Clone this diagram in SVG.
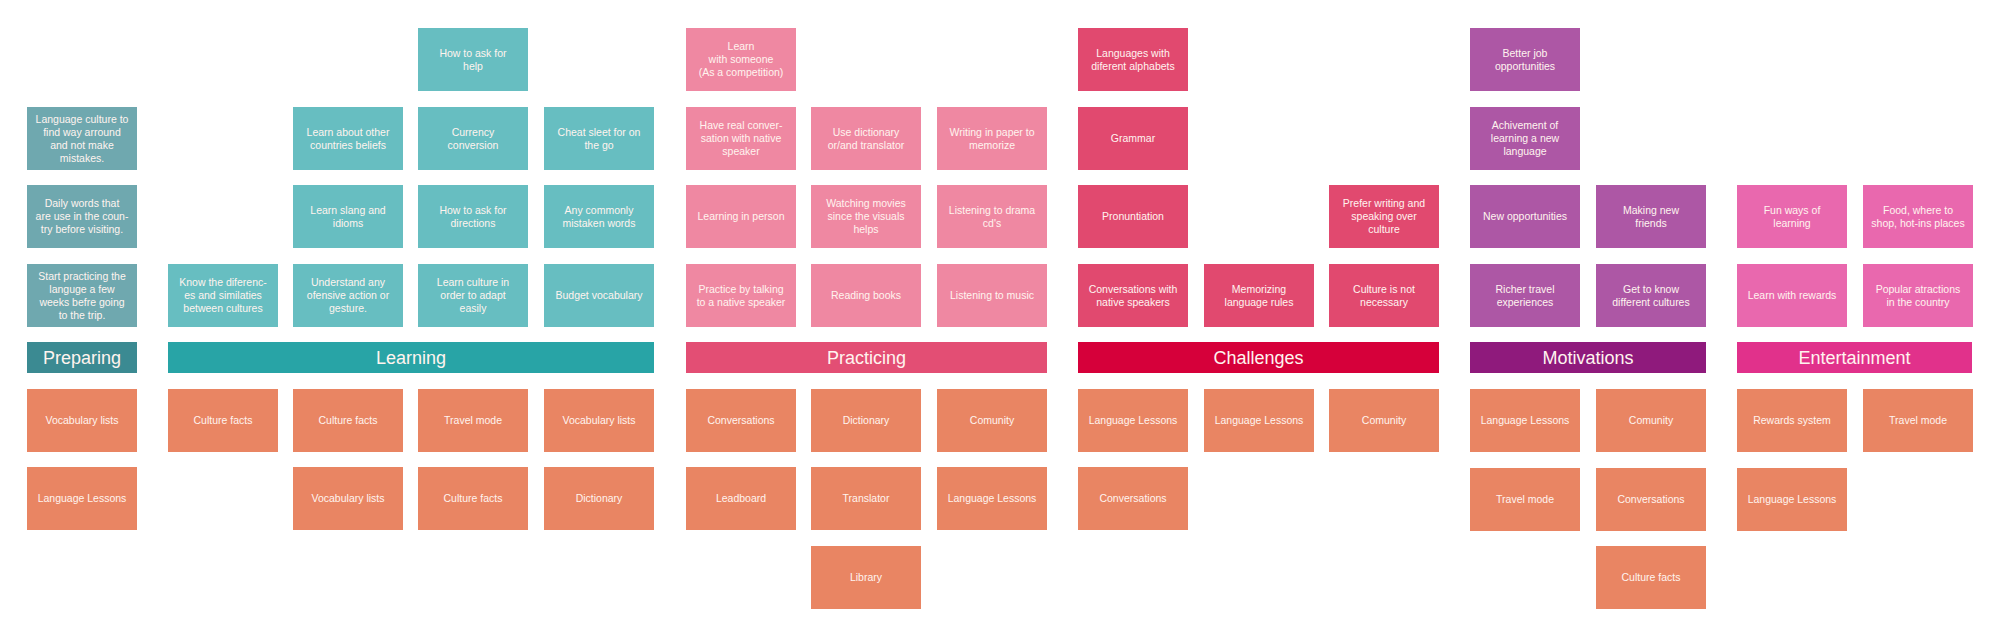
<svg xmlns="http://www.w3.org/2000/svg" width="2000" height="625" viewBox="0 0 2000 625">
<style>
.b{stroke:none}
.prep{fill:#6fa8af}
.learn{fill:#67bec1}
.prac{fill:#ef88a2}
.chal{fill:#e1496f}
.moti{fill:#ad57a5}
.ent{fill:#e968ae}
.tool{fill:#e98563}
.hprep{fill:#3b8a92}
.hlearn{fill:#28a4a6}
.hprac{fill:#e34e74}
.hchal{fill:#d6003a}
.hmoti{fill:#8f1a7c}
.hent{fill:#e1318b}
.t{font-family:"Liberation Sans",Arial,sans-serif;font-size:10.5px;fill:#fff4ef;text-anchor:middle}
.h{font-family:"Liberation Sans",Arial,sans-serif;font-size:18px;fill:#fff4ef;text-anchor:middle}
</style>
<rect width="2000" height="625" fill="#ffffff"/>
<g id="connectors"/>

<!-- Preparing -->
<g id="prep-1"><rect class="b prep" x="27" y="107" width="110" height="63"/><text class="t" x="82" y="122.5"><tspan x="82">Language culture to</tspan><tspan x="82" dy="13">find way arround</tspan><tspan x="82" dy="13">and not make</tspan><tspan x="82" dy="13">mistakes.</tspan></text></g>
<g id="prep-2"><rect class="b prep" x="27" y="185" width="110" height="63"/><text class="t" x="82" y="207"><tspan x="82">Daily words that</tspan><tspan x="82" dy="13">are use in the coun-</tspan><tspan x="82" dy="13">try before visiting.</tspan></text></g>
<g id="prep-3"><rect class="b prep" x="27" y="264" width="110" height="63"/><text class="t" x="82" y="279.5"><tspan x="82">Start practicing the</tspan><tspan x="82" dy="13">languge a few</tspan><tspan x="82" dy="13">weeks befre going</tspan><tspan x="82" dy="13">to the trip.</tspan></text></g>
<g id="h-preparing"><rect class="b hprep" x="27" y="342" width="110" height="31"/><text class="h" x="82" y="364">Preparing</text></g>
<g id="prep-o1"><rect class="b tool" x="27" y="389" width="110" height="63"/><text class="t" x="82" y="424">Vocabulary lists</text></g>
<g id="prep-o2"><rect class="b tool" x="27" y="467" width="110" height="63"/><text class="t" x="82" y="502">Language Lessons</text></g>

<!-- Learning -->
<g id="learn-c1-r4"><rect class="b learn" x="168" y="264" width="110" height="63"/><text class="t" x="223" y="286"><tspan x="223">Know the diferenc-</tspan><tspan x="223" dy="13">es and similaties</tspan><tspan x="223" dy="13">between cultures</tspan></text></g>
<g id="learn-c1-o1"><rect class="b tool" x="168" y="389" width="110" height="63"/><text class="t" x="223" y="424">Culture facts</text></g>

<g id="learn-c2-r2"><rect class="b learn" x="293" y="107" width="110" height="63"/><text class="t" x="348" y="135.5"><tspan x="348">Learn about other</tspan><tspan x="348" dy="13">countries beliefs</tspan></text></g>
<g id="learn-c2-r3"><rect class="b learn" x="293" y="185" width="110" height="63"/><text class="t" x="348" y="213.5"><tspan x="348">Learn slang and</tspan><tspan x="348" dy="13">idioms</tspan></text></g>
<g id="learn-c2-r4"><rect class="b learn" x="293" y="264" width="110" height="63"/><text class="t" x="348" y="286"><tspan x="348">Understand any</tspan><tspan x="348" dy="13">ofensive action or</tspan><tspan x="348" dy="13">gesture.</tspan></text></g>
<g id="learn-c2-o1"><rect class="b tool" x="293" y="389" width="110" height="63"/><text class="t" x="348" y="424">Culture facts</text></g>
<g id="learn-c2-o2"><rect class="b tool" x="293" y="467" width="110" height="63"/><text class="t" x="348" y="502">Vocabulary lists</text></g>

<g id="learn-c3-r1"><rect class="b learn" x="418" y="28" width="110" height="63"/><text class="t" x="473" y="56.5"><tspan x="473">How to ask for</tspan><tspan x="473" dy="13">help</tspan></text></g>
<g id="learn-c3-r2"><rect class="b learn" x="418" y="107" width="110" height="63"/><text class="t" x="473" y="135.5"><tspan x="473">Currency</tspan><tspan x="473" dy="13">conversion</tspan></text></g>
<g id="learn-c3-r3"><rect class="b learn" x="418" y="185" width="110" height="63"/><text class="t" x="473" y="213.5"><tspan x="473">How to ask for</tspan><tspan x="473" dy="13">directions</tspan></text></g>
<g id="learn-c3-r4"><rect class="b learn" x="418" y="264" width="110" height="63"/><text class="t" x="473" y="286"><tspan x="473">Learn culture in</tspan><tspan x="473" dy="13">order to adapt</tspan><tspan x="473" dy="13">easily</tspan></text></g>
<g id="learn-c3-o1"><rect class="b tool" x="418" y="389" width="110" height="63"/><text class="t" x="473" y="424">Travel mode</text></g>
<g id="learn-c3-o2"><rect class="b tool" x="418" y="467" width="110" height="63"/><text class="t" x="473" y="502">Culture facts</text></g>

<g id="learn-c4-r2"><rect class="b learn" x="544" y="107" width="110" height="63"/><text class="t" x="599" y="135.5"><tspan x="599">Cheat sleet for on</tspan><tspan x="599" dy="13">the go</tspan></text></g>
<g id="learn-c4-r3"><rect class="b learn" x="544" y="185" width="110" height="63"/><text class="t" x="599" y="213.5"><tspan x="599">Any commonly</tspan><tspan x="599" dy="13">mistaken words</tspan></text></g>
<g id="learn-c4-r4"><rect class="b learn" x="544" y="264" width="110" height="63"/><text class="t" x="599" y="299">Budget vocabulary</text></g>
<g id="learn-c4-o1"><rect class="b tool" x="544" y="389" width="110" height="63"/><text class="t" x="599" y="424">Vocabulary lists</text></g>
<g id="learn-c4-o2"><rect class="b tool" x="544" y="467" width="110" height="63"/><text class="t" x="599" y="502">Dictionary</text></g>
<g id="h-learning"><rect class="b hlearn" x="168" y="342" width="486" height="31"/><text class="h" x="411" y="364">Learning</text></g>

<!-- Practicing -->
<g id="prac-c1-r1"><rect class="b prac" x="686" y="28" width="110" height="63"/><text class="t" x="741" y="50"><tspan x="741">Learn</tspan><tspan x="741" dy="13">with someone</tspan><tspan x="741" dy="13">(As a competition)</tspan></text></g>
<g id="prac-c1-r2"><rect class="b prac" x="686" y="107" width="110" height="63"/><text class="t" x="741" y="129"><tspan x="741">Have real conver-</tspan><tspan x="741" dy="13">sation with native</tspan><tspan x="741" dy="13">speaker</tspan></text></g>
<g id="prac-c1-r3"><rect class="b prac" x="686" y="185" width="110" height="63"/><text class="t" x="741" y="220">Learning in person</text></g>
<g id="prac-c1-r4"><rect class="b prac" x="686" y="264" width="110" height="63"/><text class="t" x="741" y="292.5"><tspan x="741">Practice by talking</tspan><tspan x="741" dy="13">to a native speaker</tspan></text></g>
<g id="prac-c1-o1"><rect class="b tool" x="686" y="389" width="110" height="63"/><text class="t" x="741" y="424">Conversations</text></g>
<g id="prac-c1-o2"><rect class="b tool" x="686" y="467" width="110" height="63"/><text class="t" x="741" y="502">Leadboard</text></g>

<g id="prac-c2-r2"><rect class="b prac" x="811" y="107" width="110" height="63"/><text class="t" x="866" y="135.5"><tspan x="866">Use dictionary</tspan><tspan x="866" dy="13">or/and translator</tspan></text></g>
<g id="prac-c2-r3"><rect class="b prac" x="811" y="185" width="110" height="63"/><text class="t" x="866" y="207"><tspan x="866">Watching movies</tspan><tspan x="866" dy="13">since the visuals</tspan><tspan x="866" dy="13">helps</tspan></text></g>
<g id="prac-c2-r4"><rect class="b prac" x="811" y="264" width="110" height="63"/><text class="t" x="866" y="299">Reading books</text></g>
<g id="prac-c2-o1"><rect class="b tool" x="811" y="389" width="110" height="63"/><text class="t" x="866" y="424">Dictionary</text></g>
<g id="prac-c2-o2"><rect class="b tool" x="811" y="467" width="110" height="63"/><text class="t" x="866" y="502">Translator</text></g>
<g id="prac-c2-o3"><rect class="b tool" x="811" y="546" width="110" height="63"/><text class="t" x="866" y="581">Library</text></g>

<g id="prac-c3-r2"><rect class="b prac" x="937" y="107" width="110" height="63"/><text class="t" x="992" y="135.5"><tspan x="992">Writing in paper to</tspan><tspan x="992" dy="13">memorize</tspan></text></g>
<g id="prac-c3-r3"><rect class="b prac" x="937" y="185" width="110" height="63"/><text class="t" x="992" y="213.5"><tspan x="992">Listening to drama</tspan><tspan x="992" dy="13">cd's</tspan></text></g>
<g id="prac-c3-r4"><rect class="b prac" x="937" y="264" width="110" height="63"/><text class="t" x="992" y="299">Listening to music</text></g>
<g id="prac-c3-o1"><rect class="b tool" x="937" y="389" width="110" height="63"/><text class="t" x="992" y="424">Comunity</text></g>
<g id="prac-c3-o2"><rect class="b tool" x="937" y="467" width="110" height="63"/><text class="t" x="992" y="502">Language Lessons</text></g>
<g id="h-practicing"><rect class="b hprac" x="686" y="342" width="361" height="31"/><text class="h" x="866.5" y="364">Practicing</text></g>

<!-- Challenges -->
<g id="chal-c1-r1"><rect class="b chal" x="1078" y="28" width="110" height="63"/><text class="t" x="1133" y="56.5"><tspan x="1133">Languages with</tspan><tspan x="1133" dy="13">diferent alphabets</tspan></text></g>
<g id="chal-c1-r2"><rect class="b chal" x="1078" y="107" width="110" height="63"/><text class="t" x="1133" y="142">Grammar</text></g>
<g id="chal-c1-r3"><rect class="b chal" x="1078" y="185" width="110" height="63"/><text class="t" x="1133" y="220">Pronuntiation</text></g>
<g id="chal-c1-r4"><rect class="b chal" x="1078" y="264" width="110" height="63"/><text class="t" x="1133" y="292.5"><tspan x="1133">Conversations with</tspan><tspan x="1133" dy="13">native speakers</tspan></text></g>
<g id="chal-c1-o1"><rect class="b tool" x="1078" y="389" width="110" height="63"/><text class="t" x="1133" y="424">Language Lessons</text></g>
<g id="chal-c1-o2"><rect class="b tool" x="1078" y="467" width="110" height="63"/><text class="t" x="1133" y="502">Conversations</text></g>

<g id="chal-c2-r4"><rect class="b chal" x="1204" y="264" width="110" height="63"/><text class="t" x="1259" y="292.5"><tspan x="1259">Memorizing</tspan><tspan x="1259" dy="13">language rules</tspan></text></g>
<g id="chal-c2-o1"><rect class="b tool" x="1204" y="389" width="110" height="63"/><text class="t" x="1259" y="424">Language Lessons</text></g>

<g id="chal-c3-r3"><rect class="b chal" x="1329" y="185" width="110" height="63"/><text class="t" x="1384" y="207"><tspan x="1384">Prefer writing and</tspan><tspan x="1384" dy="13">speaking over</tspan><tspan x="1384" dy="13">culture</tspan></text></g>
<g id="chal-c3-r4"><rect class="b chal" x="1329" y="264" width="110" height="63"/><text class="t" x="1384" y="292.5"><tspan x="1384">Culture is not</tspan><tspan x="1384" dy="13">necessary</tspan></text></g>
<g id="chal-c3-o1"><rect class="b tool" x="1329" y="389" width="110" height="63"/><text class="t" x="1384" y="424">Comunity</text></g>
<g id="h-challenges"><rect class="b hchal" x="1078" y="342" width="361" height="31"/><text class="h" x="1258.5" y="364">Challenges</text></g>

<!-- Motivations -->
<g id="moti-c1-r1"><rect class="b moti" x="1470" y="28" width="110" height="63"/><text class="t" x="1525" y="56.5"><tspan x="1525">Better job</tspan><tspan x="1525" dy="13">opportunities</tspan></text></g>
<g id="moti-c1-r2"><rect class="b moti" x="1470" y="107" width="110" height="63"/><text class="t" x="1525" y="129"><tspan x="1525">Achivement of</tspan><tspan x="1525" dy="13">learning a new</tspan><tspan x="1525" dy="13">language</tspan></text></g>
<g id="moti-c1-r3"><rect class="b moti" x="1470" y="185" width="110" height="63"/><text class="t" x="1525" y="220">New opportunities</text></g>
<g id="moti-c1-r4"><rect class="b moti" x="1470" y="264" width="110" height="63"/><text class="t" x="1525" y="292.5"><tspan x="1525">Richer travel</tspan><tspan x="1525" dy="13">experiences</tspan></text></g>
<g id="moti-c1-o1"><rect class="b tool" x="1470" y="389" width="110" height="63"/><text class="t" x="1525" y="424">Language Lessons</text></g>
<g id="moti-c1-o2"><rect class="b tool" x="1470" y="468" width="110" height="63"/><text class="t" x="1525" y="503">Travel mode</text></g>

<g id="moti-c2-r3"><rect class="b moti" x="1596" y="185" width="110" height="63"/><text class="t" x="1651" y="213.5"><tspan x="1651">Making new</tspan><tspan x="1651" dy="13">friends</tspan></text></g>
<g id="moti-c2-r4"><rect class="b moti" x="1596" y="264" width="110" height="63"/><text class="t" x="1651" y="292.5"><tspan x="1651">Get to know</tspan><tspan x="1651" dy="13">different cultures</tspan></text></g>
<g id="moti-c2-o1"><rect class="b tool" x="1596" y="389" width="110" height="63"/><text class="t" x="1651" y="424">Comunity</text></g>
<g id="moti-c2-o2"><rect class="b tool" x="1596" y="468" width="110" height="63"/><text class="t" x="1651" y="503">Conversations</text></g>
<g id="moti-c2-o3"><rect class="b tool" x="1596" y="546" width="110" height="63"/><text class="t" x="1651" y="581">Culture facts</text></g>
<g id="h-motivations"><rect class="b hmoti" x="1470" y="342" width="236" height="31"/><text class="h" x="1588" y="364">Motivations</text></g>

<!-- Entertainment -->
<g id="ent-c1-r3"><rect class="b ent" x="1737" y="185" width="110" height="63"/><text class="t" x="1792" y="213.5"><tspan x="1792">Fun ways of</tspan><tspan x="1792" dy="13">learning</tspan></text></g>
<g id="ent-c1-r4"><rect class="b ent" x="1737" y="264" width="110" height="63"/><text class="t" x="1792" y="299">Learn with rewards</text></g>
<g id="ent-c1-o1"><rect class="b tool" x="1737" y="389" width="110" height="63"/><text class="t" x="1792" y="424">Rewards system</text></g>
<g id="ent-c1-o2"><rect class="b tool" x="1737" y="468" width="110" height="63"/><text class="t" x="1792" y="503">Language Lessons</text></g>

<g id="ent-c2-r3"><rect class="b ent" x="1863" y="185" width="110" height="63"/><text class="t" x="1918" y="213.5"><tspan x="1918">Food, where to</tspan><tspan x="1918" dy="13">shop, hot-ins places</tspan></text></g>
<g id="ent-c2-r4"><rect class="b ent" x="1863" y="264" width="110" height="63"/><text class="t" x="1918" y="292.5"><tspan x="1918">Popular atractions</tspan><tspan x="1918" dy="13">in the country</tspan></text></g>
<g id="ent-c2-o1"><rect class="b tool" x="1863" y="389" width="110" height="63"/><text class="t" x="1918" y="424">Travel mode</text></g>
<g id="h-entertainment"><rect class="b hent" x="1737" y="342" width="235" height="31"/><text class="h" x="1854.5" y="364">Entertainment</text></g>
</svg>
